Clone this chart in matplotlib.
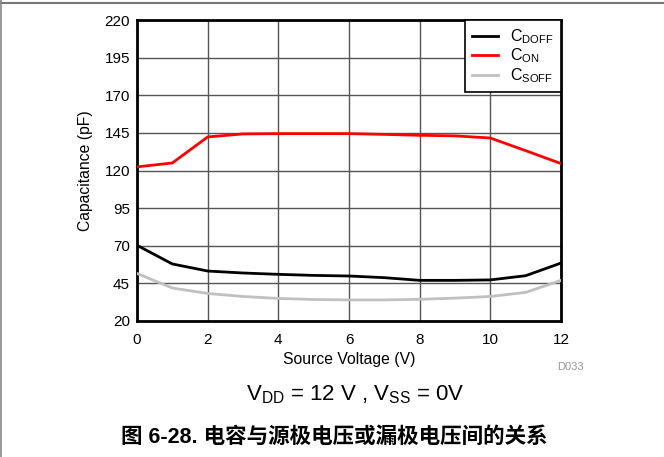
import matplotlib
matplotlib.use('Agg')
import matplotlib.pyplot as plt
from matplotlib.lines import Line2D

plt.rcParams['font.family'] = ['Liberation Sans', 'Noto Sans CJK SC', 'DejaVu Sans']
plt.rcParams['mathtext.fontset'] = 'custom'
plt.rcParams['mathtext.rm'] = 'Liberation Sans'

# source voltage (V)
volts = [0, 1, 2, 3, 4, 5, 6, 7, 8, 9, 10, 11, 12]

# capacitance (pF)
c_doff = [70.3, 57.9, 53.2, 51.9, 51.0, 50.3, 49.9, 48.8, 47.0, 47.0, 47.3, 50.1, 58.5]
c_on = [122.4, 125.0, 142.3, 144.3, 144.5, 144.5, 144.5, 144.0, 143.4, 143.0, 141.6, 133.2, 124.6]
c_soff = [51.6, 41.9, 38.3, 36.3, 35.0, 34.3, 34.0, 34.0, 34.4, 35.2, 36.3, 39.0, 47.0]

x_ticks = [0, 2, 4, 6, 8, 10, 12]
y_ticks = [20, 45, 70, 95, 120, 145, 170, 195, 220]

fig = plt.figure(figsize=(6.64, 4.57), dpi=100)
ax = fig.add_axes([137 / 664, 1 - 321 / 457, 424 / 664, 301 / 457])

ax.plot(volts, c_doff, color='black', lw=2, label=r'C$_\mathregular{DOFF}$', zorder=3)
ax.plot(volts, c_on, color='#ff0000', lw=2, label=r'C$_\mathregular{ON}$', zorder=3)
ax.plot(volts, c_soff, color='#c0c0c0', lw=2, label=r'C$_\mathregular{SOFF}$', zorder=3)

ax.set_xlim(0, 12)
ax.set_ylim(20, 220)
ax.set_xticks(x_ticks)
ax.set_yticks(y_ticks)
ax.tick_params(length=0, labelsize=11)
ax.tick_params(axis='x', pad=9)
ax.tick_params(axis='y', pad=5)
ax.grid(True, color='#555555', lw=1)
for s in ax.spines.values():
    s.set_linewidth(2)
    s.set_color('black')

ax.set_xlabel('Source Voltage (V)', fontsize=11.3, labelpad=3)
ax.set_ylabel('Capacitance (pF)', fontsize=11.3, labelpad=8)

leg = ax.legend(loc='upper right', bbox_to_anchor=(1.0, 1.0), fancybox=False,
                framealpha=1, edgecolor='black', fontsize=11.5, handlelength=1.65,
                handletextpad=0.75, labelspacing=0.05, borderpad=0.45,
                borderaxespad=0)
leg.get_frame().set_linewidth(1.2)

fig.text(570 / 664, 1 - 367 / 457, 'D033', color='#999999', fontsize=8, ha='center', va='center')
fig.text(355 / 664, 1 - 395 / 457, r'V$_\mathregular{DD}$ = 12 V , V$_\mathregular{SS}$ = 0V',
         fontsize=16, ha='center', va='center')
fig.text(334 / 664, 1 - 437 / 457, '图 6-28. 电容与源极电压或漏极电压间的关系',
         fontsize=15.5, fontweight='bold', ha='center', va='center')

# page border lines (top and left)
fig.add_artist(Line2D([0, 1], [1 - 2.5 / 457, 1 - 2.5 / 457], color='#777777', lw=1.5, transform=fig.transFigure))
fig.add_artist(Line2D([0.5 / 664, 0.5 / 664], [0, 1], color='#888888', lw=1.2, transform=fig.transFigure))

fig.savefig('out.png', dpi=100)
